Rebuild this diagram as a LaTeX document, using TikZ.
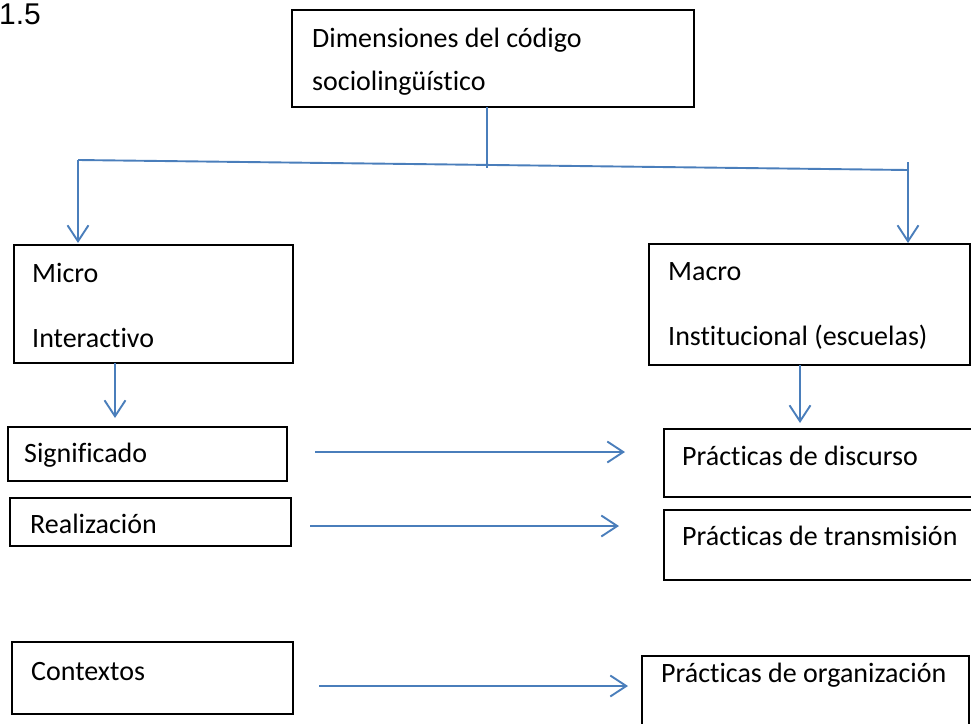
\documentclass[tikz,border=0pt]{standalone}
\usepackage{fontspec}
\setmainfont{Carlito}[Ligatures={NoCommon,NoContextual,NoRare}]
\newfontfamily\numfont{Liberation Sans}
\usetikzlibrary{arrows.meta,positioning}
\definecolor{linkblue}{HTML}{4A7EBB}

\begin{document}
\begin{tikzpicture}[x=1pt,y=-1pt,>={Straight Barb[length=16pt,width=21pt]}]
\tikzset{BoxStyle/.style = {draw,line width=1.2pt,
                            inner sep=0pt,outer sep=0pt,
                            anchor=north west},
         TextStyle/.style = {anchor=base west,inner sep=0pt,
                             font=\fontsize{28}{34}\selectfont},
         LinkStyle/.style = {draw=linkblue,line width=1.9pt}}
\clip (0,0) rectangle (971,723);
\node[anchor=base west,inner sep=0pt,font=\numfont\fontsize{30}{30}\selectfont] (num) at (-1,24) {1.5};
% boxes
\node[BoxStyle,minimum width=402pt,minimum height=97pt] (dim) at (292,10) {};
\node[BoxStyle,minimum width=279pt,minimum height=118pt] (micro) at (14,245) {};
\node[BoxStyle,minimum width=321pt,minimum height=121pt] (macro) at (649,244) {};
\node[BoxStyle,minimum width=279pt,minimum height=54pt] (sig) at (8,427) {};
\node[BoxStyle,minimum width=320pt,minimum height=68pt] (disc) at (664,429) {};
\node[BoxStyle,minimum width=281pt,minimum height=48pt] (real) at (10,498) {};
\node[BoxStyle,minimum width=320pt,minimum height=70pt] (trans) at (664,510) {};
\node[BoxStyle,minimum width=281pt,minimum height=72pt] (ctx) at (12,642) {};
\node[BoxStyle,minimum width=327pt,minimum height=80pt] (org) at (642,656) {};
% texts
\node[TextStyle] (dimA) at (312,47) {Dimensiones del código};
\node[TextStyle] (dimB) at (312,90) {sociolingüístico};
\node[TextStyle] (microA) at (32,282) {Micro};
\node[TextStyle] (microB) at (32,347) {Interactivo};
\node[TextStyle] (macroA) at (668,280) {Macro};
\node[TextStyle] (macroB) at (668,345) {Institucional (escuelas)};
\node[TextStyle] (sigA) at (24,462) {Significado};
\node[TextStyle] (discA) at (682,465) {Prácticas de discurso};
\node[TextStyle] (realA) at (30,533) {Realización};
\node[TextStyle] (transA) at (682,545) {Prácticas de transmisión};
\node[TextStyle] (ctxA) at (31,680) {Contextos};
\node[TextStyle] (orgA) at (661,682) {Prácticas de organización};
% connectors
\coordinate (stem) at (487,168);
\coordinate (forkL) at (78,160);
\coordinate (forkR) at (908,170);
\coordinate (tipR) at (908,162);
\coordinate (laneL) at (115,0);
\coordinate (laneR) at (800,0);
\draw[LinkStyle] (stem |- dim.south) -- (stem);
\draw[LinkStyle] (forkL) -- (forkR);
\draw[LinkStyle,->,shorten >=2pt] (forkL) -- (forkL |- micro.north);
\draw[LinkStyle,->,shorten >=1pt] (tipR) -- (tipR |- macro.north);
\draw[LinkStyle,->,shorten >=9pt] (laneL |- micro.south) -- (laneL |- sig.north);
\draw[LinkStyle,->,shorten >=6pt] (laneR |- macro.south) -- (laneR |- disc.north);
\draw[LinkStyle,->,shorten <=28pt,shorten >=39pt] ([yshift=2pt]sig.east) -- ([yshift=2pt]sig.east -| disc.west);
\draw[LinkStyle,->,shorten <=19pt,shorten >=45pt] ([yshift=-4pt]real.east) -- ([yshift=-4pt]real.east -| trans.west);
\draw[LinkStyle,->,shorten <=26pt,shorten >=14pt] ([yshift=-8pt]ctx.east) -- ([yshift=-8pt]ctx.east -| org.west);
\end{tikzpicture}
\end{document}
